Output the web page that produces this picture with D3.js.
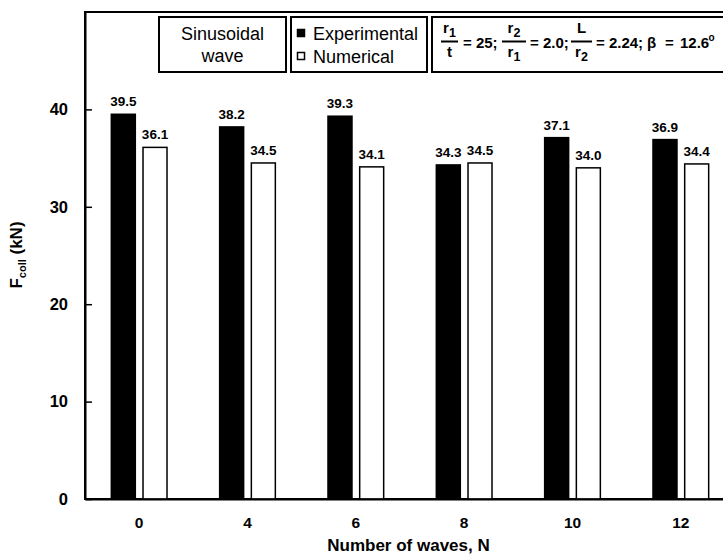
<!DOCTYPE html>
<html>
<head>
<meta charset="utf-8">
<script src="https://cdn.jsdelivr.net/npm/d3@7"></script>
<style>
  body { margin: 0; background: #fff; }
  svg { display: block; font-family: "Liberation Sans", Arial, sans-serif; }
</style>
</head>
<body>
<script>
// chart data
const waves = ["0", "4", "6", "8", "10", "12"];
const series = ["Experimental", "Numerical"];
const experimental = [39.5, 38.2, 39.3, 34.3, 37.1, 36.9];
const numerical = [36.1, 34.5, 34.1, 34.5, 34.0, 34.4];
const yTicks = [0, 10, 20, 30, 40];

const w = 723, h = 554;
const plotLeft = 85, plotTop = 12, plotBottom = 499, plotRight = 735;

const svg = d3.select("body").append("svg")
    .attr("width", w)
    .attr("height", h);

const x0 = d3.scaleBand()
    .domain(waves)
    .range([plotLeft, plotRight])
    .paddingInner(0.486)
    .paddingOuter(0.243);

const x1 = d3.scaleBand()
    .domain(series)
    .range([0, x0.bandwidth()])
    .paddingInner(0.243);

const y = d3.scaleLinear()
    .domain([0, 50])
    .range([plotBottom, plotTop]);

// plot frame (right edge is off the page)
svg.append("rect")
    .attr("x", plotLeft).attr("y", plotTop)
    .attr("width", plotRight - plotLeft).attr("height", plotBottom - plotTop)
    .attr("fill", "none").attr("stroke", "#000").attr("stroke-width", 2);

// bars
const rows = waves.map((n, i) => ({n: n, vals: [experimental[i], numerical[i]]}));

const groups = svg.selectAll("g.grp")
    .data(rows)
    .enter()
    .append("g")
    .attr("class", "grp")
    .attr("transform", d => "translate(" + x0(d.n) + ",0)");

groups.selectAll("rect")
    .data(d => d.vals.map((v, k) => ({s: series[k], v: v})))
    .enter()
    .append("rect")
    .attr("x", d => x1(d.s))
    .attr("y", d => y(d.v))
    .attr("width", x1.bandwidth())
    .attr("height", d => y(0) - y(d.v))
    .attr("fill", d => d.s === "Experimental" ? "#000" : "#fff")
    .attr("stroke", "#000")
    .attr("stroke-width", 1.5);

groups.selectAll("text")
    .data(d => d.vals.map((v, k) => ({s: series[k], v: v})))
    .enter()
    .append("text")
    .attr("x", d => x1(d.s) + x1.bandwidth() / 2)
    .attr("y", d => y(d.v) - 8)
    .attr("text-anchor", "middle")
    .attr("font-size", "13.5px")
    .attr("font-weight", "bold")
    .text(d => d.v.toFixed(1));

// y axis
const yAxis = d3.axisLeft(y)
    .tickValues(yTicks)
    .tickSizeInner(-7)
    .tickSizeOuter(0)
    .tickPadding(17);

const gy = svg.append("g")
    .attr("transform", "translate(" + plotLeft + ",0)")
    .call(yAxis);
gy.select(".domain").attr("stroke-width", 2);
gy.selectAll(".tick line").attr("stroke-width", 1.5);
gy.selectAll(".tick text")
    .attr("font-size", "16.5px")
    .attr("font-weight", "bold")
    .attr("font-family", "Liberation Sans, Arial, sans-serif")
    .attr("fill", "#000");

// x axis
const xAxis = d3.axisBottom(x0).tickSize(0).tickPadding(18);
const gx = svg.append("g")
    .attr("transform", "translate(0," + plotBottom + ")")
    .call(xAxis);
gx.select(".domain").attr("stroke-width", 2);
gx.selectAll(".tick text")
    .attr("font-size", "15.5px")
    .attr("font-weight", "bold")
    .attr("font-family", "Liberation Sans, Arial, sans-serif")
    .attr("fill", "#000");

// axis titles
svg.append("text")
    .attr("x", 408.5).attr("y", 550.5)
    .attr("text-anchor", "middle")
    .attr("font-size", "17px")
    .attr("font-weight", "bold")
    .text("Number of waves, N");

const yt = svg.append("text")
    .attr("transform", "translate(22,255) rotate(-90)")
    .attr("text-anchor", "middle")
    .attr("font-size", "17px")
    .attr("font-weight", "bold");
yt.append("tspan").text("F");
yt.append("tspan").attr("font-size", "11px").attr("dy", 4).text("coll");
yt.append("tspan").attr("dy", -4).text(" (kN)");

// header boxes
function box(x, wd) {
    svg.append("rect")
        .attr("x", x).attr("y", 17)
        .attr("width", wd).attr("height", 55)
        .attr("fill", "#fff").attr("stroke", "#000").attr("stroke-width", 2);
}
box(159, 127);
box(291, 136);
box(432, 320);

svg.append("text").attr("x", 222.5).attr("y", 39.5)
    .attr("text-anchor", "middle").attr("font-size", "18px").text("Sinusoidal");
svg.append("text").attr("x", 222.5).attr("y", 62)
    .attr("text-anchor", "middle").attr("font-size", "18px").text("wave");

// legend
const leg = svg.append("g");
series.forEach((s, i) => {
    leg.append("rect")
        .attr("x", 297.5).attr("y", 29.5 + i * 23)
        .attr("width", 7).attr("height", 7)
        .attr("fill", i === 0 ? "#000" : "#fff")
        .attr("stroke", "#000").attr("stroke-width", 1.5);
    leg.append("text")
        .attr("x", 313).attr("y", 40 + i * 23)
        .attr("font-size", "18px")
        .text(s);
});

// parameter box text: fractions and values
const par = svg.append("g").attr("font-weight", "bold").attr("font-size", "15px");

function sub(t, base, sym, idx) {
    const tx = t.append("text").attr("y", base);
    tx.append("tspan").text(sym);
    if (idx) tx.append("tspan").attr("font-size", "12.5px").attr("dy", 4).text(idx);
    return tx;
}

function frac(x, fw, nSym, nIdx, dSym, dIdx) {
    const g = par.append("g");
    const num = sub(g, 33, nSym, nIdx);
    const den = sub(g, 56.5, dSym, dIdx);
    const wn = num.node().getComputedTextLength();
    const wdn = den.node().getComputedTextLength();
    num.attr("x", x + (fw - wn) / 2);
    den.attr("x", x + (fw - wdn) / 2);
    g.append("line")
        .attr("x1", x).attr("x2", x + fw)
        .attr("y1", 41.5).attr("y2", 41.5)
        .attr("stroke", "#000").attr("stroke-width", 2);
}

function plain(x, s, yy) {
    return par.append("text").attr("x", x).attr("y", yy || 48).text(s);
}

frac(441, 17, "r", "1", "t", "");
plain(463, "= 25;");
frac(502, 24, "r", "2", "r", "1");
plain(530, "= 2.0;");
frac(571, 21, "L", "", "r", "2");
plain(596, "= 2.24;");
plain(647, "\u03b2");
plain(665, "=");
plain(680, "12.6");
plain(708.5, "o", 41).attr("font-size", "10px");
</script>
</body>
</html>
